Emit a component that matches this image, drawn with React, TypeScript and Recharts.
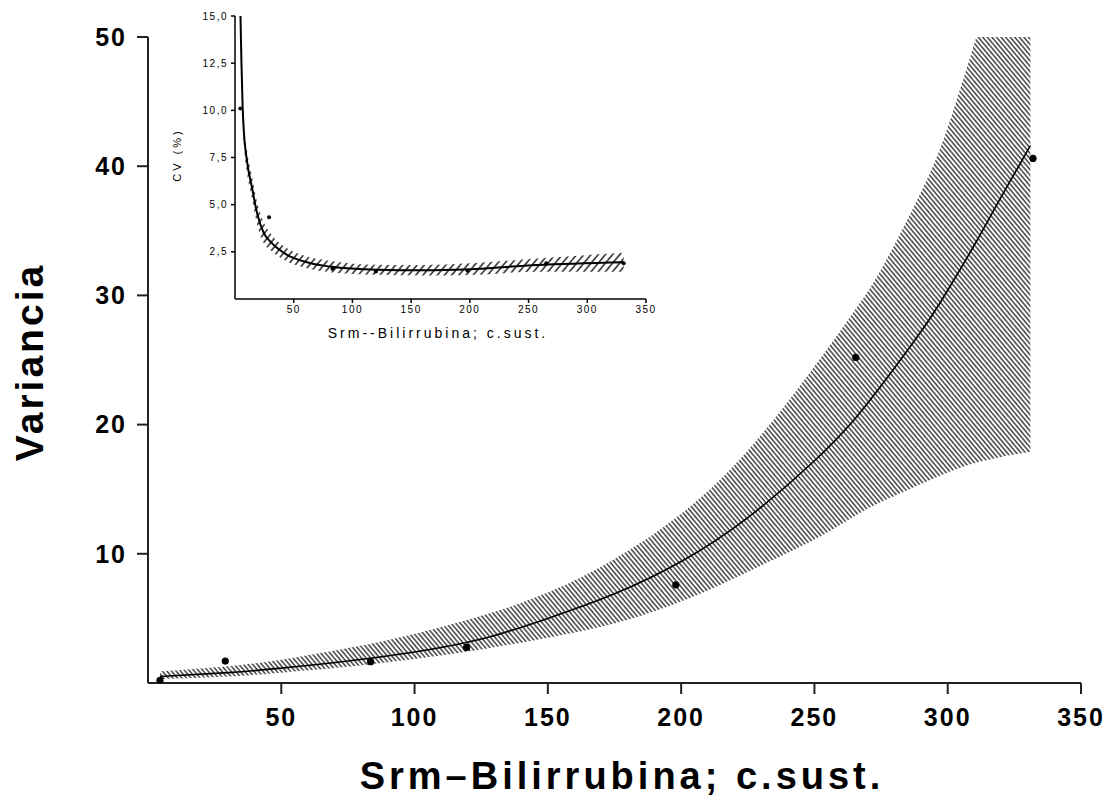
import { Area, ComposedChart, Line, Scatter, XAxis, YAxis } from 'recharts'

// main chart: fitted variance curve with its confidence band
const FIT_X = [4.5, 30, 50, 75, 100, 125, 150, 175, 200, 225, 250, 265, 275, 290, 300, 310, 320, 331]
const FIT_Y = [0.5, 0.8, 1.15, 1.7, 2.4, 3.4, 5.0, 6.9, 9.4, 12.8, 17.2, 20.4, 23.0, 27.2, 30.4, 33.9, 37.6, 41.6]
const FIT_LO = [0.3, 0.5, 0.8, 1.25, 1.85, 2.6, 3.5, 4.6, 6.3, 8.6, 11.1, 12.9, 14.0, 15.4, 16.3, 17.0, 17.5, 17.9]
const FIT_HI = [0.9, 1.3, 1.8, 2.7, 3.8, 5.2, 7.0, 9.6, 13.1, 18.0, 24.5, 28.8, 32.0, 38.0, 43.0, 49.5, 56.0, 63.0]

const POINT_X = [4.5, 29, 83.5, 119.5, 198, 265.5, 332]
const POINT_Y = [0.2, 1.7, 1.65, 2.75, 7.6, 25.2, 40.6]

const X_TICKS = [50, 100, 150, 200, 250, 300, 350]
const Y_TICKS = [10, 20, 30, 40, 50]

// inset: CV (%) curve
const CV_X = [4.6, 5.5, 6.5, 7.5, 10, 14.5, 19, 24.5, 30, 44, 58, 81, 121, 160, 200, 257, 331]
const CV_Y = [15.2, 12.5, 10.2, 8.9, 7.4, 5.9, 4.5, 3.5, 3.05, 2.35, 2.0, 1.72, 1.55, 1.52, 1.58, 1.8, 1.95]
const CV_LO = [14.6, 11.9, 9.6, 8.3, 6.8, 5.3, 3.9, 2.95, 2.6, 2.0, 1.68, 1.42, 1.28, 1.24, 1.27, 1.45, 1.45]
const CV_HI = [15.8, 13.1, 10.8, 9.5, 8.0, 6.5, 5.1, 4.05, 3.5, 2.7, 2.32, 2.02, 1.82, 1.8, 1.89, 2.15, 2.45]

const CV_POINT_X = [4.5, 29, 83, 120, 198, 265, 331]
const CV_POINT_Y = [10.1, 4.33, 1.6, 1.46, 1.5, 1.9, 1.9]

const INSET_Y_TICKS = [2.5, 5, 7.5, 10, 12.5, 15]

const fitData = FIT_X.map((x, i) => ({ x, fit: FIT_Y[i], band: [FIT_LO[i], FIT_HI[i]] }))
const points = POINT_X.map((x, i) => ({ x, y: POINT_Y[i] }))
const cvData = CV_X.map((x, i) => ({ x, fit: CV_Y[i], band: [CV_LO[i], CV_HI[i]] }))
const cvPoints = CV_POINT_X.map((x, i) => ({ x, y: CV_POINT_Y[i] }))

const FONT = '"Liberation Sans", Arial, sans-serif'
const AXIS = { stroke: '#222', strokeWidth: 2 }
const bigTick = { fontSize: 25, fontWeight: 700, fill: '#000', fontFamily: FONT, letterSpacing: 2 }
const smallTick = { fontSize: 10, fill: '#000', fontFamily: FONT, letterSpacing: 1.5 }

const dot = (r: number) => (p: any) => <circle cx={p.cx} cy={p.cy} r={r} fill="#000" />

function Inset() {
  return (
    <ComposedChart width={520} height={345} data={cvData} margin={{ top: 16, right: 24, bottom: 26, left: 45 }}>
      <defs>
        <pattern id="hatchInset" patternUnits="userSpaceOnUse" width={5.5} height={10} patternTransform="rotate(40)">
          <line x1={1} y1={0} x2={1} y2={10} stroke="#000" strokeWidth={1.3} />
        </pattern>
      </defs>
      <XAxis
        type="number"
        dataKey="x"
        domain={[0, 350]}
        ticks={X_TICKS}
        height={20}
        tickSize={4}
        tickMargin={3}
        tick={smallTick}
        axisLine={{ stroke: '#000', strokeWidth: 1.5 }}
        tickLine={{ stroke: '#000', strokeWidth: 1.5 }}
        allowDataOverflow
      />
      <YAxis
        type="number"
        domain={[0, 15]}
        ticks={INSET_Y_TICKS}
        width={40}
        tickSize={4}
        tickMargin={3}
        tick={smallTick}
        tickFormatter={(v: number) => v.toFixed(1).replace('.', ',')}
        axisLine={{ stroke: '#000', strokeWidth: 1.5 }}
        tickLine={{ stroke: '#000', strokeWidth: 1.5 }}
        allowDataOverflow
      />
      <Area type="monotone" dataKey="band" stroke="none" fill="url(#hatchInset)" fillOpacity={1} isAnimationActive={false} />
      <Line type="monotone" dataKey="fit" stroke="#000" strokeWidth={2} dot={false} isAnimationActive={false} />
      <Scatter data={cvPoints} dataKey="y" shape={dot(2)} isAnimationActive={false} />
      <text x={288} y={338} textAnchor="middle" fontSize={14} letterSpacing={3} fontFamily={FONT} fill="#000">
        Srm--Bilirrubina; c.sust.
      </text>
      <text x={31} y={155} textAnchor="middle" fontSize={11} letterSpacing={3} fontFamily={FONT} fill="#000" transform="rotate(-90 31 155)">
        CV (%)
      </text>
    </ComposedChart>
  )
}

export default function App() {
  return (
    <div style={{ position: 'absolute', left: 0, top: 0, width: 1120, height: 807, background: '#fff' }}>
      <div style={{ position: 'absolute', left: 0, top: 0 }}>
        <ComposedChart width={1120} height={807} data={fitData} margin={{ top: 37, right: 39, bottom: 64, left: 88 }}>
          <defs>
            <pattern id="hatchMain" patternUnits="userSpaceOnUse" width={3.5} height={10} patternTransform="rotate(-40)">
              <line x1={1} y1={0} x2={1} y2={10} stroke="#111" strokeWidth={1.2} />
            </pattern>
          </defs>
          <XAxis
            type="number"
            dataKey="x"
            domain={[0, 350]}
            ticks={X_TICKS}
            height={60}
            tickSize={11}
            tickMargin={14}
            tick={bigTick}
            axisLine={AXIS}
            tickLine={AXIS}
            allowDataOverflow
          />
          <YAxis
            type="number"
            domain={[0, 50]}
            ticks={Y_TICKS}
            width={60}
            tickSize={11}
            tickMargin={10}
            tick={bigTick}
            axisLine={AXIS}
            tickLine={AXIS}
            allowDataOverflow
          />
          <Area type="natural" dataKey="band" stroke="none" fill="url(#hatchMain)" fillOpacity={1} isAnimationActive={false} />
          <Line type="natural" dataKey="fit" stroke="#000" strokeWidth={1.6} dot={false} isAnimationActive={false} />
          <Scatter data={points} dataKey="y" shape={dot(3.6)} isAnimationActive={false} />
          <text x={622} y={789} textAnchor="middle" fontSize={38} fontWeight={700} letterSpacing={4} fontFamily={FONT} fill="#000">
            Srm–Bilirrubina; c.sust.
          </text>
          <text x={43} y={362} textAnchor="middle" fontSize={39} fontWeight={700} letterSpacing={3} fontFamily={FONT} fill="#000" transform="rotate(-90 43 362)">
            Variancia
          </text>
        </ComposedChart>
      </div>
      <div style={{ position: 'absolute', left: 150, top: 0 }}>
        <Inset />
      </div>
    </div>
  )
}
